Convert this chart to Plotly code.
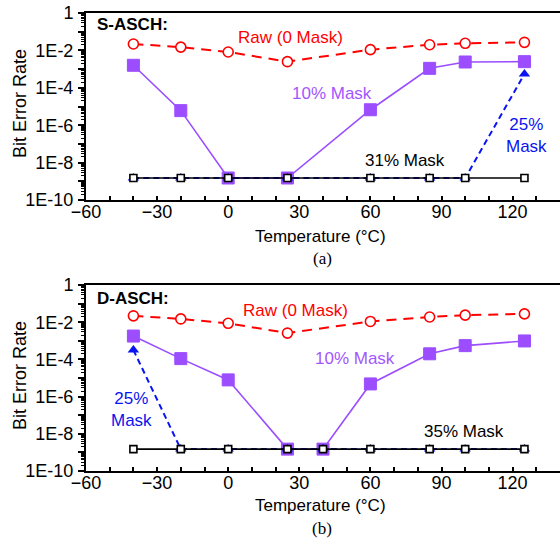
import plotly.graph_objects as go

# ---------------- data ----------------
temps_a = [-40, -20, 0, 25, 60, 85, 100, 125]
raw_a = [2.2e-2, 1.5e-2, 8.2e-3, 2.5e-3, 1.1e-2, 2.0e-2, 2.4e-2, 2.7e-2]
mask10_a = [1.6e-3, 6.0e-6, 1.5e-9, 1.5e-9, 6.7e-6, 1.1e-3, 2.4e-3, 2.5e-3]
mask25_a = [1.5e-9, 1.5e-9, 1.5e-9, 1.5e-9, 1.5e-9, 1.5e-9, 1.5e-9, 5.5e-4]
mask31_a = [1.5e-9, 1.5e-9, 1.5e-9, 1.5e-9, 1.5e-9, 1.5e-9, 1.5e-9, 1.5e-9]

temps_raw_b = [-40, -20, 0, 25, 60, 85, 100, 125]
raw_b = [2.2e-2, 1.5e-2, 8.7e-3, 2.6e-3, 1.1e-2, 1.9e-2, 2.4e-2, 2.8e-2]
temps_b = [-40, -20, 0, 25, 40, 60, 85, 100, 125]
mask10_b = [1.8e-3, 1.1e-4, 7.9e-6, 1.5e-9, 1.5e-9, 4.8e-6, 2.0e-4, 5.5e-4, 9.8e-4]
mask25_b = [3.2e-4, 1.5e-9, 1.5e-9, 1.5e-9, 1.5e-9, 1.5e-9, 1.5e-9, 1.5e-9, 1.5e-9]
mask35_b = [1.5e-9, 1.5e-9, 1.5e-9, 1.5e-9, 1.5e-9, 1.5e-9, 1.5e-9, 1.5e-9, 1.5e-9]

x_ticks = [-60, -30, 0, 30, 60, 90, 120]
y_ticks = [1, 1e-1, 1e-2, 1e-3, 1e-4, 1e-5, 1e-6, 1e-7, 1e-8, 1e-9, 1e-10]
y_ticktext = ["1", "", "1E-2", "", "1E-4", "", "1E-6", "", "1E-8", "", "1E-10"]

# ---------------- style ----------------
RED = "#ff0000"
PURPLE = "#9b4dff"
PURPLE_TXT = "#a356ff"
BLUE = "#0a14f0"
FONT = "Liberation Sans, Arial, sans-serif"
W, H = 560, 542

fig = go.Figure()


def add_panel(xa, ya, t_raw, raw, t, m10, m25, mlast):
    fig.add_trace(go.Scatter(
        x=t_raw, y=raw, mode="lines+markers", xaxis=xa, yaxis=ya,
        line=dict(color=RED, width=2, dash="10px,7px"),
        marker=dict(symbol="circle", size=10, color="white",
                    line=dict(color=RED, width=1.6))))
    fig.add_trace(go.Scatter(
        x=t, y=m10, mode="lines+markers", xaxis=xa, yaxis=ya,
        line=dict(color=PURPLE, width=1.6),
        marker=dict(symbol="square", size=12, color=PURPLE,
                    line=dict(color=PURPLE, width=1))))
    fig.add_trace(go.Scatter(
        x=t, y=m25, mode="lines+markers", xaxis=xa, yaxis=ya,
        line=dict(color=BLUE, width=2, dash="6px,4px"),
        marker=dict(symbol="triangle-up", size=10, color=BLUE)))
    fig.add_trace(go.Scatter(
        x=t, y=mlast, mode="lines+markers", xaxis=xa, yaxis=ya,
        line=dict(color="black", width=1.6),
        marker=dict(symbol="square", size=7, color="white",
                    line=dict(color="black", width=1.6))))


add_panel("x", "y", temps_a, raw_a, temps_a, mask10_a, mask25_a, mask31_a)
add_panel("x2", "y2", temps_raw_b, raw_b, temps_b, mask10_b, mask25_b, mask35_b)

minor_vals = [k * 10.0 ** d for d in range(-10, 0) for k in range(2, 10)]

xcommon = dict(range=[-60, 140], tickvals=x_ticks, ticks="inside", ticklen=4,
               tickwidth=1.5, tickcolor="black", showline=True, linewidth=2,
               linecolor="black", mirror=True, showgrid=False, zeroline=False,
               automargin=False, ticklabelstandoff=-6,
               tickfont=dict(family=FONT, size=18, color="black"),
               minor=dict(tickvals=list(range(-60, 141, 10)), ticks="inside",
                          ticklen=4, tickcolor="black", tickwidth=1.5, showgrid=False))
ycommon = dict(type="log", range=[-10, 0], tickvals=y_ticks, ticktext=y_ticktext,
               ticks="outside", ticklen=6, tickwidth=1.5, tickcolor="black",
               showline=True, linewidth=2, linecolor="black", mirror=False,
               showgrid=False, zeroline=False, ticklabelstandoff=1, automargin=False,
               tickfont=dict(family=FONT, size=18, color="black"),
               minor=dict(tickvals=minor_vals, ticks="outside", ticklen=3,
                          tickcolor="black", tickwidth=1, showgrid=False))

x0 = 86 / W
fig.update_layout(
    width=W, height=H, margin=dict(l=0, r=0, t=0, b=0, pad=0, autoexpand=False),
    paper_bgcolor="white", plot_bgcolor="white", showlegend=False,
    font=dict(family=FONT, color="black"),
    xaxis=dict(domain=[x0, 1], anchor="y", **xcommon),
    yaxis=dict(domain=[1 - 200 / H, 1 - 13 / H], anchor="x", **ycommon),
    xaxis2=dict(domain=[x0, 1], anchor="y2", **xcommon),
    yaxis2=dict(domain=[1 - 471 / H, 1 - 285 / H], anchor="x2", **ycommon),
)


def ann(text, x, y, color, size=17, xref="x", yref="y", bold=False,
        xanchor="center", yanchor="middle", family=FONT, **kw):
    if bold:
        text = "<b>" + text + "</b>"
    fig.add_annotation(text=text, x=x, y=y, xref=xref, yref=yref, showarrow=False,
                       xanchor=xanchor, yanchor=yanchor,
                       font=dict(family=family, size=size, color=color), **kw)


# panel (a) labels
ann("S-ASCH:", -56.2, -0.63, "black", size=17, bold=True, xanchor="left")
ann("Raw (0 Mask)", 26.2, -1.29, RED)
ann("10% Mask", 43.9, -4.31, PURPLE_TXT)
ann("31% Mask", 74.8, -7.88, "black")
ann("25%<br>Mask", 125.9, -6.53, BLUE)

# panel (b) labels
ann("D-ASCH:", -56.2, -0.70, "black", size=17, bold=True, xanchor="left",
    xref="x2", yref="y2")
ann("Raw (0 Mask)", 28.3, -1.38, RED, xref="x2", yref="y2")
ann("10% Mask", 53.6, -3.93, PURPLE_TXT, xref="x2", yref="y2")
ann("35% Mask", 99.7, -7.89, "black", xref="x2", yref="y2")
ann("25%<br>Mask", -41, -6.72, BLUE, xref="x2", yref="y2")

# axis titles and captions
for (cy_t, cy_y, cy_c, cap) in [(237, 104, 258, "(a)"), (505, 376, 528, "(b)")]:
    ann("Temperature (°C)", 320 / W, 1 - cy_t / H, "black", size=17,
        xref="paper", yref="paper")
    ann("Bit Error Rate", 20 / W, 1 - cy_y / H, "black", size=18,
        xref="paper", yref="paper", textangle=-90)
    ann(cap, 322 / W, 1 - cy_c / H, "black", size=17, xref="paper", yref="paper",
        family="Liberation Serif, Times New Roman, serif")

fig.write_html("out.html")
